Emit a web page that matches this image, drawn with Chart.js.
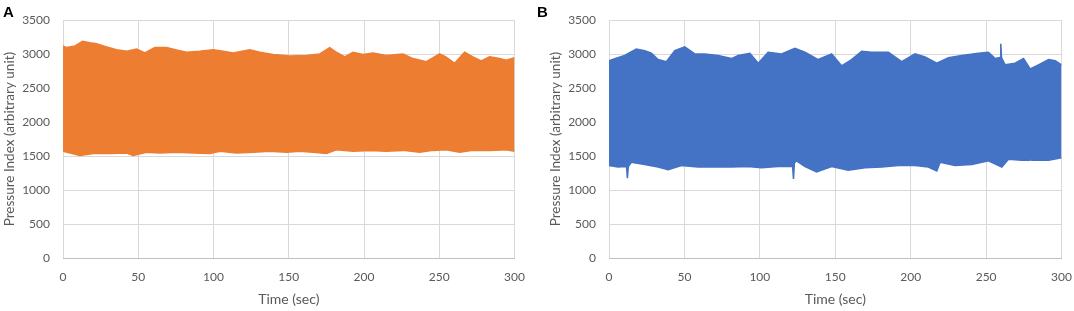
<!DOCTYPE html>
<html>
<head>
<meta charset="utf-8">
<script src="https://cdn.jsdelivr.net/npm/chart.js@4.4.1/dist/chart.umd.min.js"></script>
<style>
  body { margin: 0; background: #fff; width: 1074px; height: 311px; overflow: hidden; position: relative; }
  .panel { position: absolute; top: 0; width: 537px; height: 311px; }
  .tag { position: absolute; top: 3px; font: bold 15px "Liberation Sans", Arial, sans-serif; color: #000; }
</style>
</head>
<body>
<div class="panel" style="left:0"><canvas id="chartA" width="537" height="311"></canvas></div>
<div class="panel" style="left:547px"><canvas id="chartB" width="537" height="311"></canvas></div>
<div class="tag" style="left:3px">A</div>
<div class="tag" style="left:537px">B</div>
<script>
// Panel A - upper and lower edge of the pressure trace
var timesAHigh = [0, 2.4, 8, 13, 17.9, 22.3, 29, 35.6, 42.3, 48.9, 54.4, 61, 68.8, 75.4, 82.1, 90.9, 99.8, 106.4, 113, 124.1, 130.8, 139.6, 150.7, 161.7, 170.6, 177.2, 181.6, 187.2, 192.7, 199.3, 206, 214.8, 225.9, 232.5, 241.4, 250.2, 254.6, 260.2, 266.8, 272.3, 277.9, 283.4, 290, 294.5, 300];
var upperA = [3121, 3097, 3121, 3190, 3167, 3153, 3107, 3065, 3042, 3074, 3018, 3097, 3097, 3060, 3028, 3042, 3065, 3042, 3018, 3065, 3028, 2995, 2972, 2981, 3004, 3097, 3028, 2958, 3028, 2995, 3018, 2981, 3004, 2935, 2889, 3004, 2958, 2866, 3028, 2958, 2902, 2963, 2935, 2912, 2949];
var timesALow = [0, 11.3, 20.1, 31.2, 42.3, 46.7, 55.5, 64.4, 75.4, 86.5, 97.6, 104.2, 115.3, 126.3, 137.4, 148.5, 157.3, 166.2, 175, 181.6, 192.7, 203.8, 214.8, 225.9, 236.9, 245.8, 254.6, 263.5, 272.3, 283.4, 294.5, 300];
var lowerA = [1570, 1510, 1537, 1537, 1546, 1510, 1556, 1546, 1556, 1546, 1537, 1570, 1546, 1556, 1570, 1556, 1570, 1556, 1537, 1593, 1570, 1584, 1570, 1584, 1556, 1584, 1593, 1556, 1584, 1584, 1593, 1570];

// Panel B
var timesBHigh = [0, 3.8, 10.4, 18.1, 23.7, 28.1, 32.5, 38, 43.6, 50.2, 56.9, 63.5, 72.3, 81.2, 85.6, 93.4, 98.9, 105.5, 114.4, 123.2, 129.9, 138.7, 147.6, 154.2, 160.8, 167.5, 174.1, 185.2, 194, 202.9, 209.5, 217.3, 225, 233.8, 244.9, 251.5, 256, 259.2, 259.7, 260.2, 262.6, 269.2, 274.8, 279.2, 284.7, 291.4, 295.8, 300];
var upperB = [2903, 2935, 2982, 3074, 3051, 3014, 2921, 2889, 3051, 3107, 3004, 3004, 2982, 2935, 2982, 3014, 2866, 3028, 3004, 3088, 3028, 2921, 3004, 2829, 2921, 3042, 3028, 3028, 2889, 3004, 2958, 2866, 2949, 2982, 3014, 3028, 2935, 2950, 3153, 2950, 2843, 2866, 2935, 2782, 2843, 2921, 2903, 2843];
var timesBLow = [0, 6, 11.6, 12.2, 12.8, 14.8, 23.7, 32.5, 39.2, 48, 59, 70, 81, 92, 101, 112, 121.7, 122.3, 122.9, 124.3, 130, 137.6, 147.6, 158.6, 169.7, 180.8, 191.8, 202.9, 211.7, 217.3, 219.5, 229.4, 240.5, 251.5, 260.4, 264.8, 273.7, 278.6, 279.2, 279.8, 282.5, 291.4, 300];
var lowerB = [1361, 1338, 1345, 1176, 1345, 1408, 1375, 1338, 1301, 1361, 1338, 1338, 1338, 1347, 1329, 1347, 1345, 1162, 1400, 1431, 1347, 1268, 1347, 1292, 1329, 1338, 1361, 1361, 1338, 1282, 1408, 1361, 1375, 1431, 1338, 1454, 1440, 1440, 1546, 1440, 1440, 1440, 1477];

var xTicks = [0, 50, 100, 150, 200, 250, 300];
var yTicks = [0, 500, 1000, 1500, 2000, 2500, 3000, 3500];

var textColor = '#595959';
var gridColor = '#d9d9d9';

function toPoints(xs, ys) {
    return xs.map(function (x, i) { return { x: x, y: ys[i] }; });
}

function makePanel(id, color, tHi, hi, tLo, lo, yWidth, titlePad) {
    var ctx = document.getElementById(id).getContext('2d');
    return new Chart(ctx, {
        type: 'line',
        data: {
            datasets: [{
                data: toPoints(tHi, hi),
                borderColor: color,
                backgroundColor: color,
                borderWidth: 1.5,
                pointRadius: 0,
                fill: '+1'
            }, {
                data: toPoints(tLo, lo),
                borderColor: color,
                backgroundColor: color,
                borderWidth: 1.5,
                pointRadius: 0,
                fill: false
            }]
        },
        options: {
            responsive: false,
            animation: false,
            layout: { padding: { left: 0, right: 22, top: 6, bottom: 0 } },
            plugins: { legend: { display: false }, tooltip: { enabled: false } },
            scales: {
                x: {
                    type: 'linear',
                    min: 0,
                    max: 300,
                    afterBuildTicks: function (scale) {
                        scale.ticks = xTicks.map(function (v) { return { value: v }; });
                    },
                    afterFit: function (scale) { scale.height = 53; },
                    grid: { color: gridColor, drawTicks: false },
                    border: { color: '#bfbfbf' },
                    ticks: { color: textColor, padding: 12, font: { family: 'Lato', size: 12 } },
                    title: {
                        display: true,
                        text: 'Time (sec)',
                        color: textColor,
                        padding: { top: 0, bottom: 3 },
                        font: { family: 'Lato', size: 14 }
                    }
                },
                y: {
                    min: 0,
                    max: 3500,
                    afterBuildTicks: function (scale) {
                        scale.ticks = yTicks.map(function (v) { return { value: v }; });
                    },
                    afterFit: function (scale) { scale.width = yWidth; },
                    grid: { color: gridColor, drawTicks: false },
                    border: { display: false },
                    ticks: {
                        color: textColor,
                        padding: 13,
                        font: { family: 'Lato', size: 12 },
                        callback: function (v) { return String(v); }
                    },
                    title: {
                        display: true,
                        text: 'Pressure Index (arbitrary unit)',
                        color: textColor,
                        padding: { top: titlePad, bottom: 0 },
                        font: { family: 'Lato', size: 13.5 }
                    }
                }
            }
        }
    });
}

var chartA = makePanel('chartA', '#ED7D31', timesAHigh, upperA, timesALow, lowerA, 63, 2);
var chartB = makePanel('chartB', '#4472C4', timesBHigh, upperB, timesBLow, lowerB, 62, 1);
</script>
</body>
</html>
